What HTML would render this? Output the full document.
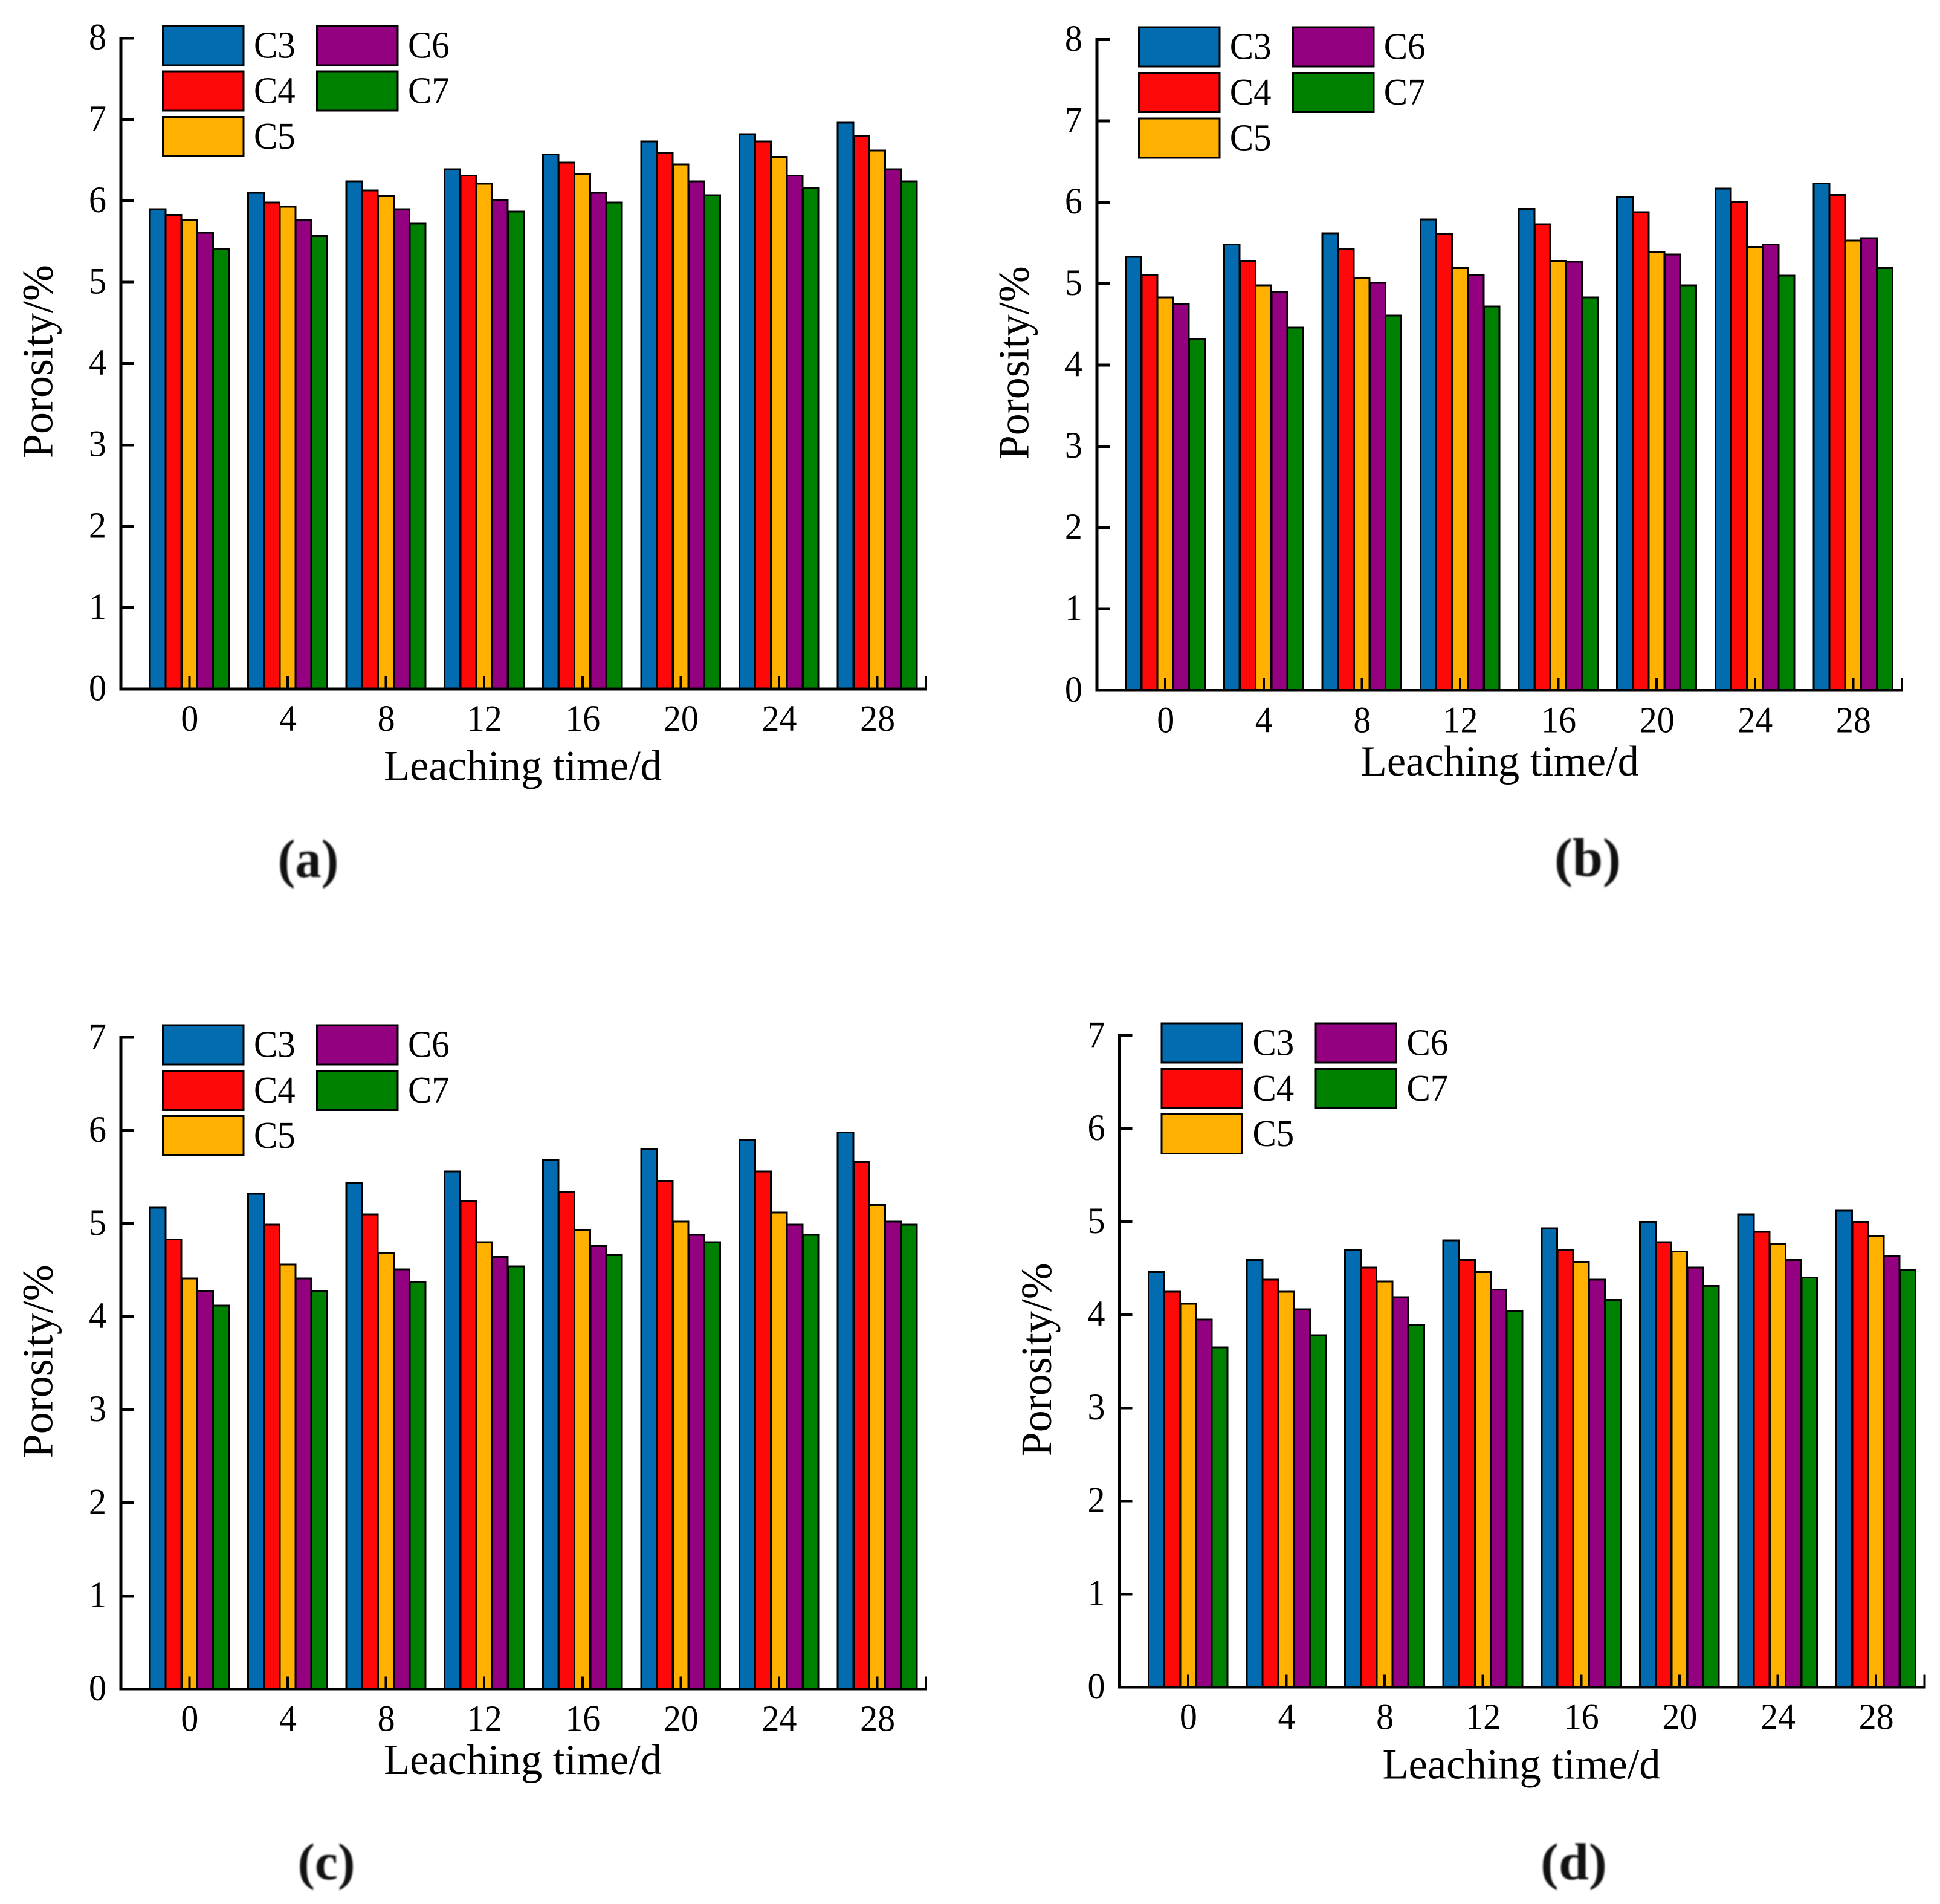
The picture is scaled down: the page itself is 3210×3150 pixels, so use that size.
<!DOCTYPE html>
<html lang="en">
<head>
<meta charset="utf-8">
<title>Porosity vs leaching time</title>
<style>
html,body{margin:0;padding:0;background:#fff;}
svg{display:block;}
text{font-family:"Liberation Serif",serif;fill:#000;}
.sub{font-weight:bold;font-size:90px;filter:blur(1.3px);fill:#111;}
.xt{font-size:70.5px;}
.yt{font-size:72px;}
rect{shape-rendering:crispEdges;}
</style>
</head>
<body>
<svg id="chart" xmlns="http://www.w3.org/2000/svg" width="3210" height="3150" viewBox="0 0 3210 3150">
  <rect width="3210" height="3150" fill="#fff"/>

  <g id="panel-a" transform="translate(200,1140)">
    <text class="xt" transform="translate(435,150.7)">Leaching time/d</text>
    <text class="yt" transform="translate(-113.3,-382) rotate(-90)">Porosity/%</text>
  </g>
  <g id="panel-b" transform="translate(1814.8,1142.3)">
    <text class="xt" transform="translate(437,140.7)">Leaching time/d</text>
    <text class="yt" transform="translate(-113.3,-382) rotate(-90)">Porosity/%</text>
  </g>
  <g id="panel-c" transform="translate(200,2794.3)">
    <text class="xt" transform="translate(435,140.7)">Leaching time/d</text>
    <text class="yt" transform="translate(-113.3,-382) rotate(-90)">Porosity/%</text>
  </g>
  <g id="panel-d" transform="translate(1852.5,2791.3)">
    <text class="xt" transform="translate(435,151.4)">Leaching time/d</text>
    <text class="yt" transform="translate(-113.3,-382) rotate(-90)">Porosity/%</text>
  </g>

  <text class="sub" text-anchor="middle" transform="translate(510,1451) scale(.96,1)">(a)</text>
  <text class="sub" text-anchor="middle" transform="translate(2627,1449) scale(1,1)">(b)</text>
  <text class="sub" text-anchor="middle" transform="translate(540,3109) scale(.95,.95)">(c)</text>
  <text class="sub" text-anchor="middle" transform="translate(2604,3109) scale(1,.95)">(d)</text>
</svg>

<script>
const categories = ["0","4","8","12","16","20","24","28"];
const seriesNames = ["C3","C4","C5","C6","C7"];
const seriesColors = ["#036bb0","#fe0909","#ffb000","#930080","#008000"];
const yTicksEight = [0,1,2,3,4,5,6,7,8];
const yTicksSeven = [0,1,2,3,4,5,6,7];

const aC3 = [5.90,6.10,6.24,6.39,6.57,6.73,6.82,6.96];
const aC4 = [5.83,5.98,6.13,6.31,6.47,6.59,6.73,6.80];
const aC5 = [5.76,5.93,6.06,6.21,6.33,6.45,6.54,6.62];
const aC6 = [5.61,5.76,5.90,6.01,6.10,6.24,6.31,6.39];
const aC7 = [5.41,5.57,5.72,5.87,5.98,6.07,6.16,6.24];

const bC3 = [5.33,5.48,5.62,5.79,5.92,6.06,6.17,6.23];
const bC4 = [5.11,5.28,5.43,5.61,5.73,5.88,6.00,6.09];
const bC5 = [4.83,4.98,5.07,5.19,5.28,5.39,5.45,5.53];
const bC6 = [4.75,4.90,5.01,5.11,5.27,5.36,5.48,5.56];
const bC7 = [4.32,4.46,4.61,4.72,4.83,4.98,5.10,5.19];

const cC3 = [5.17,5.32,5.44,5.56,5.68,5.80,5.90,5.98];
const cC4 = [4.83,4.99,5.10,5.24,5.34,5.46,5.56,5.66];
const cC5 = [4.41,4.56,4.68,4.80,4.93,5.02,5.12,5.20];
const cC6 = [4.27,4.41,4.51,4.64,4.76,4.88,4.99,5.02];
const cC7 = [4.12,4.27,4.37,4.54,4.66,4.80,4.88,4.99];

const dC3 = [4.46,4.59,4.70,4.80,4.93,5.00,5.08,5.12];
const dC4 = [4.25,4.38,4.51,4.59,4.70,4.78,4.89,5.00];
const dC5 = [4.12,4.25,4.36,4.46,4.57,4.68,4.76,4.85];
const dC6 = [3.95,4.06,4.19,4.27,4.38,4.51,4.59,4.63];
const dC7 = [3.65,3.78,3.89,4.04,4.16,4.31,4.40,4.48];

const NS = "http://www.w3.org/2000/svg";
const BAR_W = 25.9, BAR_PITCH = 26.2, GROUP_PITCH = 162.6, GROUP0 = 113.4, AXIS_LEN = 1332;

function xScale(groupIndex){ return GROUP0 + groupIndex * GROUP_PITCH; }
function barX(groupIndex, seriesIndex){ return xScale(groupIndex) + (seriesIndex - 2.5) * BAR_PITCH; }
function yScale(value, unit){ return -value * unit; }

function add(parent, tag, attrs, text){
  const el = document.createElementNS(NS, tag);
  for (const k in attrs) el.setAttribute(k, attrs[k]);
  if (text !== undefined) el.textContent = text;
  parent.appendChild(el);
  return el;
}

function drawPanel(id, series, yTicks, unit){
  const g = document.getElementById("panel-" + id);
  const topY = yScale(yTicks[yTicks.length - 1], unit);

  // bars
  series.forEach(function(vals, s){
    vals.forEach(function(v, i){
      const y = yScale(v, unit);
      const r = add(g, "rect", {x: barX(i, s), y: y, width: BAR_W, height: -y, fill: seriesColors[s], stroke: "#000", "stroke-width": 3});
      
      
    });
  });

  // y axis line
  const yLine = add(g, "rect", {x: -2.5, y: topY - 2.4, width: 5, height: -topY + 4.8, fill: "#000"});
  
  

  // x axis line
  const xLine = add(g, "rect", {x: -2.5, y: -2.4, width: AXIS_LEN + 4.5, height: 4.8, fill: "#000"});
  
  

  // right end tick
  const endTick = add(g, "rect", {x: AXIS_LEN - 2, y: -21, width: 4, height: 21, fill: "#000"});
  
  

  // y ticks and labels
  yTicks.forEach(function(t){
    const y = yScale(t, unit);
    if (t > 0) {
      const tk = add(g, "rect", {x: 0, y: y - 2.4, width: 21, height: 4.8, fill: "#000"});
      
      
    }
    const lb = add(g, "text", {transform: "translate(-24," + (y + 18.5) + ") scale(.95,1)", "text-anchor": "end", "font-size": 61}, String(t));
    
    
  });

  // x ticks and labels
  categories.forEach(function(c, i){
    const x = xScale(i);
    const tk = add(g, "rect", {x: x - 2, y: -21, width: 4, height: 21, fill: "#000"});
    
    
    const lb = add(g, "text", {transform: "translate(" + (x + 0.5) + ",69) scale(.95,1)", "text-anchor": "middle", "font-size": 61}, c);
    
    
  });

  // legend
  seriesNames.forEach(function(n, s){
    const col = s < 3 ? 0 : 1;
    const row = s < 3 ? s : s - 3;
    const lx = 68 + col * 255;
    const ly = topY - 21.8 + row * 75.3;
    const sw = add(g, "rect", {x: lx + 1.5, y: ly + 1.5, width: 133.6, height: 65, fill: seriesColors[s], stroke: "#000", "stroke-width": 3});
    
    
    const tx = add(g, "text", {transform: "translate(" + (lx + 152) + "," + (ly + 54) + ") scale(.95,1)", "font-size": 62}, n);
    
    
  });
}

drawPanel("a", [aC3,aC4,aC5,aC6,aC7], yTicksEight, 134.6);
drawPanel("b", [bC3,bC4,bC5,bC6,bC7], yTicksEight, 134.6);
drawPanel("c", [cC3,cC4,cC5,cC6,cC7], yTicksSeven, 154);
drawPanel("d", [dC3,dC4,dC5,dC6,dC7], yTicksSeven, 154);
</script>
</body>
</html>
